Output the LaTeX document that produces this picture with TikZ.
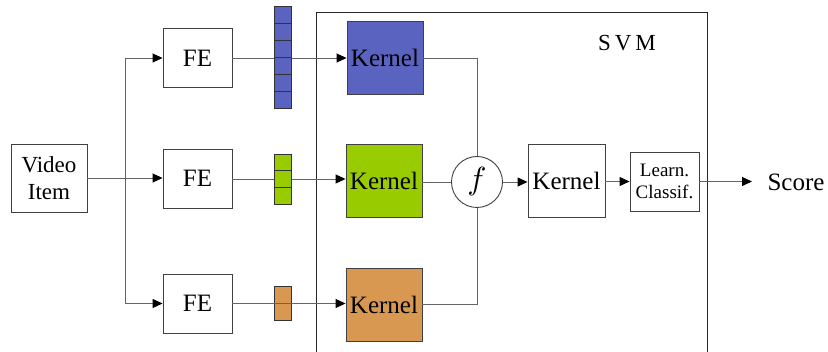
\documentclass[tikz,border=0pt]{standalone}
\usepackage{graphicx}
\usepackage{fontspec}
\setmainfont{Liberation Serif}
\usetikzlibrary{arrows.meta}
\definecolor{kblue}{RGB}{91,99,192}
\definecolor{kgreen}{RGB}{153,204,0}
\definecolor{korange}{RGB}{217,152,82}
\definecolor{lgray}{RGB}{100,100,100}
\begin{document}
\begin{tikzpicture}[x=1pt,y=-1pt,
  box/.style={draw=black!75,line width=0.9pt,inner sep=0pt,fill=white},
  big/.style={font=\fontsize{25}{27}\selectfont},
  conn/.style={draw=lgray,line width=0.9pt},
  arr/.style={conn,-{Triangle[length=10pt,width=9pt,color=black]}},
  cell/.style={draw=black!80,line width=0.8pt}]
\useasboundingbox (0,0) rectangle (828,352);
% SVM frame
\draw[black!85,line width=0.9pt] (316,360) -- (316,12) -- (707,12) -- (707,360);
\node[font=\fontsize{23}{25}\selectfont] (svm) at (627,43) {S\,V\,M};
% nodes
\node[box,minimum width=76pt,minimum height=68pt,align=center,font=\fontsize{23}{27}\selectfont] (video) at (49,178) {Video\\Item};
\node[box,big,minimum width=69pt,minimum height=59pt] (fe1) at (197.5,58) {FE};
\node[box,big,minimum width=69pt,minimum height=59pt] (fe2) at (197.5,178.5) {FE};
\node[box,big,minimum width=69pt,minimum height=59pt] (fe3) at (197.5,303.5) {FE};
\node[box,big,fill=kblue,minimum width=76pt,minimum height=73pt] (k1) at (385,58) {Kernel};
\node[box,big,fill=kgreen,minimum width=76pt,minimum height=73pt] (k2) at (384,180.5) {Kernel};
\node[box,big,fill=korange,minimum width=76pt,minimum height=73pt] (k3) at (384,304.5) {Kernel};
\node[draw=black!75,line width=0.9pt,circle,minimum size=51pt,inner sep=0pt,fill=white] (f) at (477,182) {\scalebox{3.2}{$f$}};
\node[box,big,minimum width=77pt,minimum height=73pt] (k4) at (566.5,180.5) {Kernel};
\node[box,minimum width=69pt,minimum height=59pt,align=center,font=\fontsize{19}{22}\selectfont] (lc) at (664.5,181.5) {Learn.\\Classif.};
\node[big,anchor=west] (score) at (764,182) {Score};
\coordinate (split) at (125,178);
\coordinate (out) at (752,181.5);
% connectors
\draw[conn] (video.east) -- (split);
\draw[arr] (split) -- (fe2.west |- split);
\draw[arr] (split) |- (fe1.west);
\draw[arr] (split) |- (fe3.west);
\draw[arr] (fe1.east) -- (k1.west);
\draw[arr] (fe2.east |- 0,179) -- (k2.west |- 0,179);
% feature vectors
\foreach \i in {0,...,5} \draw[cell,fill=kblue] (274,6+17*\i) rectangle (291,23+17*\i);
\foreach \i in {0,1,2} \draw[cell,fill=kgreen] (274,154+16.67*\i) rectangle (291,170.67+16.67*\i);
\draw[cell,fill=korange] (274,286) rectangle (291,320);
\draw[arr] (fe3.east) -- (k3.west |- fe3.east);
% fusion
\draw[conn] (k1.east) -| (f.north);
\draw[conn] (k2.east |- f.west) -- (f.west);
\draw[conn] (k3.east) -| (f.south);
\draw[arr] (f.east) -- (k4.west |- f.east);
\draw[arr] (k4.east |- lc.west) -- (lc.west);
\draw[arr] (lc.east) -- (out);
\end{tikzpicture}
\end{document}
